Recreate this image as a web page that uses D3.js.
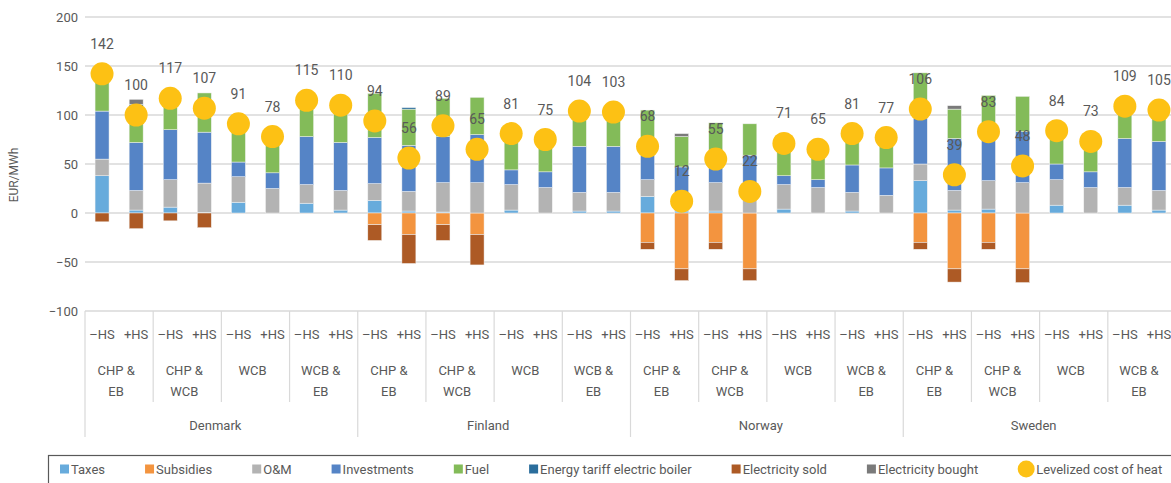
<!DOCTYPE html>
<meta charset="utf-8">
<script src="https://d3js.org/d3.v7.min.js"></script>
<style>
  body { margin: 0; background: #fff; }
  svg { display: block; font-family: Roboto, "Liberation Sans", sans-serif; }
  .tick-label, .cat, .legend-text { fill: #595959; font-size: 13px; }
  .val { fill: #595959; font-size: 14px; text-anchor: middle; }
</style>
<body>
<div id="chart"></div>
<script>
  const countries = ["Denmark", "Finland", "Norway", "Sweden"];
  const systems = ["CHP & EB", "CHP & WCB", "WCB", "WCB & EB"];
  const variants = ["–HS", "+HS"];

  // one value per bar: country > system > variant
  const taxes      = [38, 3, 6, 0.5, 11, 0, 10, 3,   13, 2, 1, 0, 3, 0, 2, 2,   17, 2, 2, 0, 4, 0, 2, 0,   33, 3, 4, 0, 8, 0, 8, 3];
  const subsidies  = [0, 0, 0, 0, 0, 0, 0, 0,   -12, -22, -12, -22, 0, 0, 0, 0,   -30, -57, -30, -57, 0, 0, 0, 0,   -30, -57, -30, -57, 0, 0, 0, 0];
  const om         = [17, 20, 28, 30, 26, 25, 19, 20,   17, 20, 30, 31, 26, 26, 19, 19,   17, 18, 29, 28, 25, 26, 19, 18,   17, 20, 29, 31, 26, 26, 18, 20];
  const investments= [49, 49, 51, 52, 15, 16, 49, 49,   47, 47, 47, 49, 15, 16, 47, 47,   25, 27, 17, 31, 9, 8, 28, 28,   47, 53, 50, 52, 16, 16, 50, 50];
  const fuel       = [47, 36, 40, 40, 39, 37, 37, 38,   45, 37, 39, 38, 37, 33, 36, 35,   46, 31, 44, 32, 33, 31, 32, 30,   46, 30, 37, 36, 34, 31, 33, 32];
  const tariff     = [0, 3, 0, 0, 0, 0, 0, 0,   0, 1.5, 0, 0, 0, 0, 0, 0,   0, 0, 0, 0, 0, 0, 0, 1,   0, 0, 0, 0, 0, 0, 0, 0];
  const sold       = [-9, -16, -8, -15, 0, 0, 0, 0,   -16, -29.5, -16, -31, 0, 0, 0, 0,   -7, -12, -7, -12, 0, 0, 0, 0,   -7, -13.5, -7, -14, 0, 0, 0, 0];
  const bought     = [0, 5, 0, 0, 0, 0, 0, 0,   0, 0, 0, 0, 0, 0, 0, 0,   0, 3, 0, 0, 0, 0, 0, 0,   0, 3.5, 0, 0, 0, 0, 0, 0];
  const lcoh       = [142, 100, 117, 107, 91, 78, 115, 110,   94, 56, 89, 65, 81, 75, 104, 103,   68, 12, 55, 22, 71, 65, 81, 77,   106, 39, 83, 48, 84, 73, 109, 105];

  const yTicks = [-100, -50, 0, 50, 100, 150, 200];

  const series = [
    { key: "taxes", name: "Taxes", values: taxes, color: "#67abdc" },
    { key: "subsidies", name: "Subsidies", values: subsidies, color: "#f3943f" },
    { key: "om", name: "O&M", values: om, color: "#b3b3b3" },
    { key: "inv", name: "Investments", values: investments, color: "#5584c6" },
    { key: "fuel", name: "Fuel", values: fuel, color: "#83bb59" },
    { key: "tariff", name: "Energy tariff electric boiler", values: tariff, color: "#2a6d9c" },
    { key: "sold", name: "Electricity sold", values: sold, color: "#ad5a25" },
    { key: "bought", name: "Electricity bought", values: bought, color: "#7a7a7a" }
  ];
  const lcohColor = "#fdc114";

  const width = 1171, height = 483;
  const plotLeft = 85, plotRight = 1176, plotTop = 17, plotBottom = 311;

  // build one row per bar
  const rows = lcoh.map(function(v, i) {
    const r = { i: i, lcoh: v };
    series.forEach(function(s) { r[s.key] = s.values[i]; });
    return r;
  });

  const x = d3.scaleBand().domain(d3.range(rows.length)).range([plotLeft, plotRight]);
  const y = d3.scaleLinear().domain([-100, 200]).range([plotBottom, plotTop]);
  const barW = x.bandwidth() * 0.41;

  const stack = d3.stack()
    .keys(series.map(function(s) { return s.key; }))
    .offset(d3.stackOffsetDiverging);
  const stacked = stack(rows);

  const svg = d3.select("#chart").append("svg")
    .attr("width", width)
    .attr("height", height);

  // grid lines
  svg.append("g").selectAll("line")
    .data(yTicks)
    .enter().append("line")
    .attr("x1", plotLeft).attr("x2", width)
    .attr("y1", function(d) { return y(d); })
    .attr("y2", function(d) { return y(d); })
    .attr("stroke", "#d9d9d9")
    .attr("stroke-width", 1.5);

  // y tick labels
  svg.append("g").selectAll("text")
    .data(yTicks)
    .enter().append("text")
    .attr("class", "tick-label")
    .attr("x", 78)
    .attr("y", function(d) { return y(d); })
    .attr("dy", "0.35em")
    .attr("text-anchor", "end")
    .text(d3.format("d"));

  svg.append("text")
    .attr("class", "tick-label")
    .attr("transform", "translate(18,175) rotate(-90)")
    .attr("text-anchor", "middle")
    .style("font-size", "12px")
    .text("EUR/MWh");

  // stacked bars
  const colorOf = {};
  series.forEach(function(s) { colorOf[s.key] = s.color; });

  svg.append("g").selectAll("g")
    .data(stacked)
    .enter().append("g")
    .attr("fill", function(d) { return colorOf[d.key]; })
    .selectAll("rect")
    .data(function(d) { return d.filter(function(p) { return p[1] !== p[0]; }); })
    .enter().append("rect")
    .attr("x", function(d) { return x(d.data.i) + (x.bandwidth() - barW) / 2; })
    .attr("width", barW)
    .attr("y", function(d) { return y(Math.max(d[0], d[1])); })
    .attr("height", function(d) { return Math.abs(y(d[0]) - y(d[1])); })
    .attr("stroke", "#f2f2f2")
    .attr("stroke-width", 0.5);

  // levelized cost markers
  svg.append("g").selectAll("circle")
    .data(rows)
    .enter().append("circle")
    .attr("cx", function(d) { return x(d.i) + x.bandwidth() / 2; })
    .attr("cy", function(d) { return y(d.lcoh); })
    .attr("r", 11.5)
    .attr("fill", lcohColor);

  svg.append("g").selectAll("text")
    .data(rows)
    .enter().append("text")
    .attr("class", "val")
    .attr("x", function(d) { return x(d.i) + x.bandwidth() / 2; })
    .attr("y", function(d) { return y(d.lcoh) - 25; })
    .text(function(d) { return d.lcoh; });

  // multi-level category axis
  const axis = svg.append("g");
  const step = x.step();

  axis.selectAll(".hs")
    .data(rows)
    .enter().append("text")
    .attr("class", "cat")
    .attr("x", function(d) { return x(d.i) + x.bandwidth() / 2; })
    .attr("y", 334)
    .attr("dy", "0.35em")
    .attr("text-anchor", "middle")
    .text(function(d) { return variants[d.i % 2]; });

  const groups = d3.range(countries.length * systems.length);
  const sysLabel = axis.selectAll(".sys")
    .data(groups)
    .enter().append("text")
    .attr("class", "cat")
    .attr("text-anchor", "middle")
    .attr("transform", function(g) { return "translate(" + (plotLeft + step * (2 * g + 1) - 3) + ",370)"; });
  sysLabel.each(function(g) {
    const name = systems[g % systems.length];
    const amp = name.indexOf("&");
    const parts = amp > 0 ? [name.slice(0, amp + 1), name.slice(amp + 2)] : [name];
    d3.select(this).selectAll("tspan")
      .data(parts)
      .enter().append("tspan")
      .attr("x", 0)
      .attr("y", function(p, k) { return k * 21; })
      .attr("dy", "0.35em")
      .text(function(p) { return p; });
  });

  axis.selectAll(".country")
    .data(countries)
    .enter().append("text")
    .attr("class", "cat")
    .attr("x", function(c, k) { return plotLeft + step * (8 * k + 4) - 6; })
    .attr("y", 425)
    .attr("dy", "0.35em")
    .attr("text-anchor", "middle")
    .text(function(c) { return c; });

  axis.selectAll(".sep")
    .data(d3.range(groups.length + 1))
    .enter().append("line")
    .attr("x1", function(g) { return plotLeft + step * 2 * g; })
    .attr("x2", function(g) { return plotLeft + step * 2 * g; })
    .attr("y1", plotBottom)
    .attr("y2", function(g) { return g % 4 === 0 ? 437 : 402; })
    .attr("stroke", "#d9d9d9")
    .attr("stroke-width", 1.2);

  // legend
  const legend = svg.append("g");
  legend.append("rect")
    .attr("x", 48.5).attr("y", 455.5)
    .attr("width", 1200).attr("height", 60)
    .attr("fill", "none")
    .attr("stroke", "#595959")
    .attr("stroke-width", 1.2);

  const items = series.map(function(s) { return { name: s.name, color: s.color, dot: false }; })
    .concat([{ name: "Levelized cost of heat", color: lcohColor, dot: true }]);
  let lx = 60;
  items.forEach(function(it) {
    const g = legend.append("g").attr("transform", "translate(" + lx + ",469)");
    let tx = 11;
    if (it.dot) {
      g.append("circle").attr("cx", 8).attr("cy", 0).attr("r", 8.5).attr("fill", it.color);
      tx = 18;
    } else {
      g.append("rect").attr("x", 0).attr("y", -4.5).attr("width", 9).attr("height", 9).attr("fill", it.color);
    }
    const t = g.append("text")
      .attr("class", "legend-text")
      .attr("x", tx)
      .attr("dy", "0.35em")
      .text(it.name);
    lx += tx + t.node().getComputedTextLength() + 40;
  });
</script>
</body>
